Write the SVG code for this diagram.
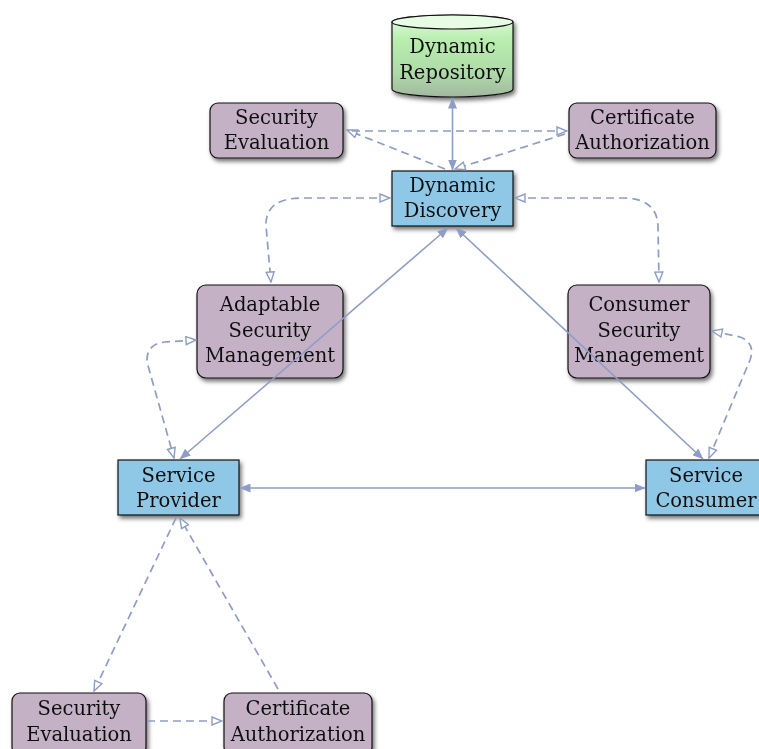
<svg xmlns="http://www.w3.org/2000/svg" width="759" height="749" viewBox="0 0 759 749">
<style>
.lbl{font-family:"DejaVu Serif","Liberation Serif",serif;font-size:19.5px;fill:#111;text-anchor:middle}
.p{fill:#C4B1C6;stroke:#111;stroke-width:1.2}
.b{fill:#8EC8E6;stroke:#111;stroke-width:1.2}
.s{fill:none;stroke:#8E9DC8;stroke-width:1.6;marker-start:url(#fa);marker-end:url(#fa)}
.d{fill:none;stroke:#8E9DC8;stroke-width:1.7;stroke-dasharray:8 5}
.d2{marker-start:url(#oa);marker-end:url(#oa)}
.d1{marker-end:url(#oa)}
</style>
<defs>
<filter id="sh" x="-20%" y="-20%" width="140%" height="150%">
<feDropShadow dx="2" dy="3" stdDeviation="2" flood-color="#000" flood-opacity="0.55"/>
</filter>
<linearGradient id="g" x1="0" y1="0" x2="0" y2="1">
<stop offset="0" stop-color="#e6fae2"/>
<stop offset="0.3" stop-color="#b8eeae"/>
<stop offset="0.7" stop-color="#aedba8"/>
<stop offset="1" stop-color="#a2b8a0"/>
</linearGradient>
<marker id="fa" viewBox="0 0 11 9" refX="10.5" refY="4.5" markerWidth="11" markerHeight="9" markerUnits="userSpaceOnUse" orient="auto-start-reverse">
<path d="M0,0 L11,4.5 L0,9 z" fill="#8E9DC8"/>
</marker>
<marker id="oa" viewBox="0 0 12 10" refX="11" refY="5" markerWidth="12" markerHeight="10" markerUnits="userSpaceOnUse" orient="auto-start-reverse">
<path d="M1,1 L11,5 L1,9 z" fill="#fff" stroke="#8E9DC8" stroke-width="1.4"/>
</marker>
</defs>
<rect width="759" height="749" fill="#fff"/>

<g id="dynamic-repository" filter="url(#sh)">
<path d="M392 22 L392 89 A60.5 8 0 0 0 513 89 L513 22 A60.5 7 0 0 0 392 22 z" fill="url(#g)" stroke="#111" stroke-width="1.2"/>
<ellipse cx="452.5" cy="22" rx="60.5" ry="7" fill="#e8fbe4" stroke="#111" stroke-width="1.2"/>
<text class="lbl" x="452.5" y="53">Dynamic</text>
<text class="lbl" x="452.5" y="79">Repository</text>
</g>

<g id="security-evaluation-top" filter="url(#sh)">
<rect class="p" x="210" y="103" width="133" height="55" rx="8"/>
<text class="lbl" x="276.5" y="124">Security</text>
<text class="lbl" x="276.5" y="149">Evaluation</text>
</g>

<g id="certificate-authorization-top" filter="url(#sh)">
<rect class="p" x="569" y="103" width="147" height="55" rx="8"/>
<text class="lbl" x="642.5" y="124">Certificate</text>
<text class="lbl" x="642.5" y="149">Authorization</text>
</g>

<g id="dynamic-discovery" filter="url(#sh)">
<rect class="b" x="392" y="171" width="121" height="55"/>
<text class="lbl" x="452.5" y="192">Dynamic</text>
<text class="lbl" x="452.5" y="217">Discovery</text>
</g>

<g id="adaptable-security-management" filter="url(#sh)">
<rect class="p" x="197" y="285" width="146" height="93" rx="9"/>
<text class="lbl" x="270" y="311">Adaptable</text>
<text class="lbl" x="270" y="337">Security</text>
<text class="lbl" x="270" y="362">Management</text>
</g>

<g id="consumer-security-management" filter="url(#sh)">
<rect class="p" x="568" y="285" width="142" height="93" rx="9"/>
<text class="lbl" x="639" y="311">Consumer</text>
<text class="lbl" x="639" y="337">Security</text>
<text class="lbl" x="639" y="362">Management</text>
</g>

<g id="service-provider" filter="url(#sh)">
<rect class="b" x="118" y="460" width="121" height="55"/>
<text class="lbl" x="178.5" y="482">Service</text>
<text class="lbl" x="178.5" y="507">Provider</text>
</g>

<g id="service-consumer" filter="url(#sh)">
<rect class="b" x="646" y="460" width="121" height="55"/>
<text class="lbl" x="706" y="482">Service</text>
<text class="lbl" x="706" y="507">Consumer</text>
</g>

<g id="security-evaluation-bottom" filter="url(#sh)">
<rect class="p" x="12" y="693" width="134" height="62" rx="8"/>
<text class="lbl" x="79" y="715">Security</text>
<text class="lbl" x="79" y="741">Evaluation</text>
</g>

<g id="certificate-authorization-bottom" filter="url(#sh)">
<rect class="p" x="224" y="693" width="148" height="62" rx="8"/>
<text class="lbl" x="298" y="715">Certificate</text>
<text class="lbl" x="298" y="741">Authorization</text>
</g>

<g id="connectors">
<line class="s" x1="452.5" y1="98" x2="452.5" y2="170"/>
<line class="s" x1="448" y1="228" x2="180" y2="459"/>
<line class="s" x1="456" y1="228" x2="703" y2="459"/>
<line class="s" x1="240" y1="488" x2="645" y2="488"/>
<path class="d d1" d="M445 169 L347 130"/>
<path class="d d1" d="M352 131 L567 131"/>
<path class="d d1" d="M565 134 L455 169"/>
<path class="d d2" d="M390 198 L300 198 Q265 199 266 226 L271 282"/>
<path class="d d2" d="M515 198 L625 198 Q657 199 658 226 L659 282"/>
<path class="d d2" d="M196 340 L165 342 Q146 344 147 362 L174 458"/>
<path class="d d2" d="M712 331 L740 337 Q756 343 750 360 L709 458"/>
<path class="d d1" d="M176 518 L94 691"/>
<path class="d d1" d="M278 689 L180 518"/>
<path class="d d1" d="M147 721 L222 721"/>
</g>
</svg>
